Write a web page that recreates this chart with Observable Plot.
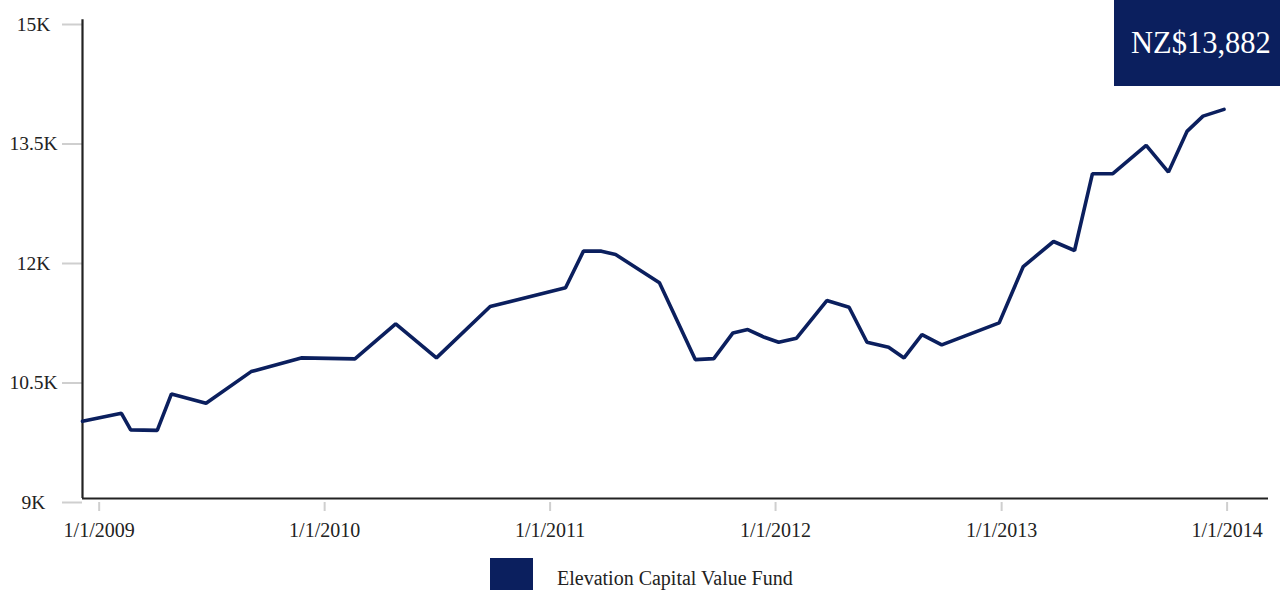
<!DOCTYPE html>
<html>
<head>
<meta charset="utf-8">
<script src="https://cdn.jsdelivr.net/npm/d3@7"></script>
<script src="https://cdn.jsdelivr.net/npm/@observablehq/plot@0.6"></script>
<style>
  html, body { margin: 0; padding: 0; background: #fff; }
  #wrap { position: relative; width: 1280px; height: 590px; overflow: hidden; font-family: "Liberation Serif", "DejaVu Serif", serif; }
  #chart svg { font-family: "Liberation Serif", "DejaVu Serif", serif !important; }
  #badge { position: absolute; left: 1114px; top: 0; width: 166px; height: 86px; background: #0b1f5e; color: #fff;
           font-size: 30.5px; line-height: 86px; text-align: left; padding-left: 17px; box-sizing: border-box; white-space: nowrap; }
  #legend-swatch { position: absolute; left: 490px; top: 558px; width: 43px; height: 32px; background: #0b1f5e; }
  #legend-label { position: absolute; left: 557px; top: 569px; font-size: 20px; line-height: 18px; color: #222; white-space: nowrap; }
</style>
</head>
<body>
<div id="wrap">
  <div id="chart"></div>
  <div id="badge">NZ$13,882</div>
  <div id="legend-swatch"></div>
  <div id="legend-label">Elevation Capital Value Fund</div>
</div>
<script>
// ---- data ----
const dates = ["2008-12-05","2009-02-06","2009-02-21","2009-04-05","2009-04-28","2009-06-23","2009-09-04","2009-11-24",
  "2010-02-19","2010-04-26","2010-07-01","2010-09-26","2011-01-26","2011-02-24","2011-03-25","2011-04-17",
  "2011-06-27","2011-08-24","2011-09-23","2011-10-24","2011-11-17","2011-12-14","2012-01-06","2012-02-04",
  "2012-03-24","2012-04-29","2012-05-28","2012-07-02","2012-07-27","2012-08-25","2012-09-26","2012-12-28",
  "2013-02-05","2013-03-26","2013-04-29","2013-05-28","2013-06-30","2013-08-23","2013-09-28","2013-10-28",
  "2013-11-23","2013-12-27"];
const values = [10019,10119,9911,9905,10363,10245,10643,10815,
  10803,11242,10815,11460,11695,12155,12155,12113,
  11758,10794,10806,11129,11171,11074,11011,11062,
  11535,11451,11011,10948,10815,11108,10979,11255,
  11962,12276,12163,13127,13127,13482,13147,13658,
  13850,13935];
const yTicks = [9000, 10500, 12000, 13500, 15000];
const yTickLabels = ["9K", "10.5K", "12K", "13.5K", "15K"];
const xTicks = ["2009-01-01","2010-01-01","2011-01-01","2012-01-01","2013-01-01","2014-01-01"];
const seriesName = "Elevation Capital Value Fund";

const parse = d3.utcParse("%Y-%m-%d");
const data = dates.map((d, i) => ({date: parse(d), value: values[i]}));
const xStart = parse(dates[0]);
const xEnd = parse("2014-03-09");
const lineColor = "#0b1f5e";

const chart = Plot.plot({
  width: 1280,
  height: 545,
  marginLeft: 82,
  marginRight: 12,
  marginTop: 24,
  marginBottom: 43,
  style: {fontFamily: "'Liberation Serif', 'DejaVu Serif', serif", background: "#fff", color: "#222"},
  x: {type: "utc", domain: [xStart, xEnd]},
  y: {domain: [9000, 15000]},
  marks: [
    Plot.axisY({
      ticks: yTicks,
      tickFormat: (d) => yTickLabels[yTicks.indexOf(d)],
      tickSize: 20,
      tickPadding: 29,
      textAnchor: "middle",
      stroke: "#cfcfcf",
      strokeWidth: 2,
      fontSize: 19.5,
      fill: "#222",
      label: null
    }),
    Plot.axisX({
      ticks: xTicks.map(parse),
      tickFormat: d3.utcFormat("%-m/%-d/%Y"),
      tickSize: 9,
      tickPadding: 11,
      stroke: "#cfcfcf",
      strokeWidth: 2,
      fontSize: 20,
      fill: "#222",
      label: null
    }),
    Plot.ruleY([9050], {stroke: "#222", strokeWidth: 2.2}),
    Plot.ruleX([xStart], {y1: 15060, y2: 9050, stroke: "#222", strokeWidth: 2.2}),
    Plot.line(data, {x: "date", y: "value", stroke: lineColor, strokeWidth: 3.6, strokeLinejoin: "miter", title: () => seriesName})
  ]
});
document.getElementById("chart").appendChild(chart);
</script>
</body>
</html>
